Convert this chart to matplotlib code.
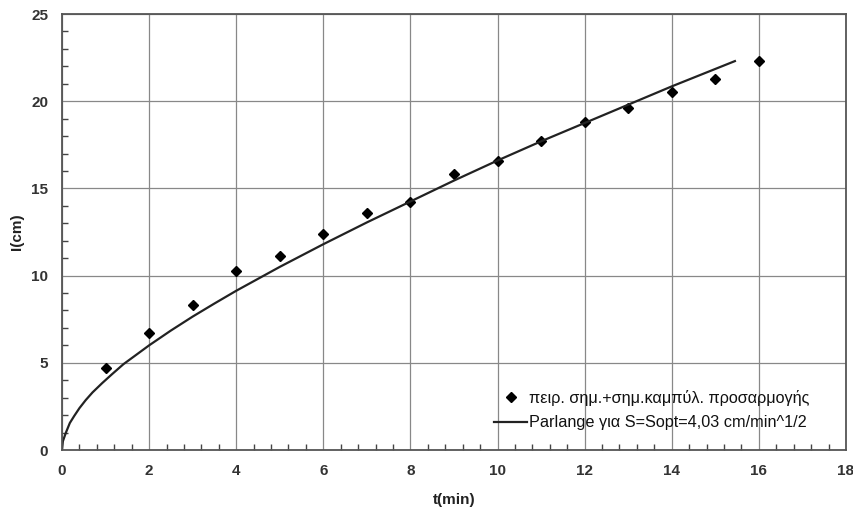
import matplotlib.pyplot as plt
from matplotlib.ticker import MultipleLocator

# measured points
t_meas = [1, 2, 3, 4, 5, 6, 7, 8, 9, 10, 11, 12, 13, 14, 15, 16]
I_meas = [4.7, 6.7, 8.3, 10.25, 11.1, 12.4, 13.6, 14.2, 15.8, 16.6,
          17.7, 18.8, 19.6, 20.5, 21.3, 22.3]

# Parlange curve
t_curve = [0, 0.02, 0.09, 0.18, 0.28, 0.4, 0.544, 0.7, 0.92, 1.15, 1.41,
           1.7, 2, 2.5, 3, 3.5, 4, 5, 6, 7, 8, 9, 10, 11, 12, 13, 14, 15,
           15.45]
I_curve = [0, 0.5, 1.0, 1.55, 1.95, 2.4, 2.86, 3.3, 3.83, 4.35, 4.92,
           5.45, 6.0, 6.85, 7.65, 8.4, 9.13, 10.5, 11.8, 13.05, 14.25,
           15.45, 16.6, 17.7, 18.75, 19.8, 20.85, 21.85, 22.3]

plt.rcParams['font.family'] = ['Liberation Sans', 'DejaVu Sans']

fig = plt.figure(figsize=(8.54, 5.13), dpi=100)
ax = fig.add_axes([0.0726, 0.1228, 0.918, 0.8499])

ax.plot(t_meas, I_meas, linestyle='none', marker='D', markersize=5.5,
        color='black', label='πειρ. σημ.+σημ.καμπύλ. προσαρμογής')
ax.plot(t_curve, I_curve, color='#222222', linewidth=1.6,
        label='Parlange για S=Sopt=4,03 cm/min^1/2')

ax.set_xlim(0, 18)
ax.set_ylim(0, 25)
ax.xaxis.set_major_locator(MultipleLocator(2))
ax.xaxis.set_minor_locator(MultipleLocator(0.4))
ax.yaxis.set_major_locator(MultipleLocator(5))
ax.yaxis.set_minor_locator(MultipleLocator(1))
ax.grid(True, which='major', color='#888888', linewidth=0.9)
ax.set_axisbelow(True)

ax.tick_params(which='both', direction='in', colors='#444444',
               labelcolor='#333333', labelsize=11)
ax.tick_params(which='major', length=0, pad=10)
ax.tick_params(which='minor', length=4, width=1)
for lab in ax.get_xticklabels() + ax.get_yticklabels():
    lab.set_fontweight('bold')
for sp in ax.spines.values():
    sp.set_color('#555555')
    sp.set_linewidth(1.3)

ax.set_xlabel('t(min)', fontsize=11, fontweight='bold', color='#222222',
              labelpad=11)
ax.set_ylabel('I(cm)', fontsize=11, fontweight='bold', color='#222222',
              labelpad=5)

ax.legend(loc='lower right', bbox_to_anchor=(0.962, 0.03), borderaxespad=0,
          frameon=False, fontsize=11.7, handlelength=2.0, handletextpad=0.15,
          labelspacing=0.6, labelcolor='#111111')

fig.savefig('out.png', dpi=100)
